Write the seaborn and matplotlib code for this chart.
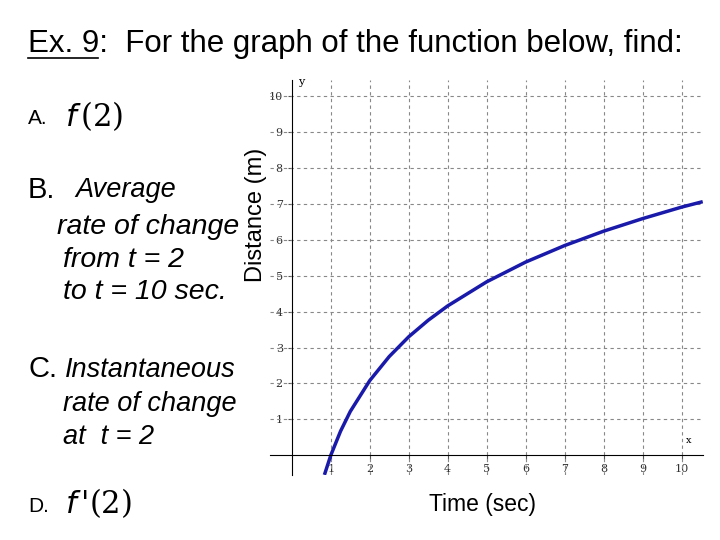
import matplotlib
matplotlib.use("Agg")
import matplotlib.pyplot as plt
import seaborn as sns
import pandas as pd

t = [0.85, 1.0, 1.25, 1.5, 2.0, 2.5, 3.0, 3.5, 4.0, 5.0, 6.0, 7.0, 8.0, 9.0, 10.0, 10.5]
d = [-0.5, 0.0, 0.67, 1.22, 2.08, 2.75, 3.3, 3.76, 4.16, 4.83, 5.38, 5.84, 6.24, 6.59, 6.91, 7.05]
xticks = [1, 2, 3, 4, 5, 6, 7, 8, 9, 10]
yticks = [1, 2, 3, 4, 5, 6, 7, 8, 9, 10]

df = pd.DataFrame({"t": t, "d": d})
fig = plt.figure(figsize=(7.2, 5.4), dpi=100)
ax = fig.add_axes([270/720, 1-475/540, 433/720, 395/540])
ax.set_xlim(-0.56, 10.55)
ax.set_ylim(-0.55, 10.45)
for v in xticks:
    ax.axvline(v, color="#888888", ls=(0, (3, 3)), lw=0.8)
for v in yticks:
    ax.axhline(v, color="#888888", ls=(0, (3, 3)), lw=0.8)
sns.lineplot(data=df, x="t", y="d", ax=ax, color="#1a1aaa", lw=2.5)
for s in ["top", "right"]:
    ax.spines[s].set_visible(False)
ax.spines["left"].set_position(("data", 0))
ax.spines["bottom"].set_position(("data", 0))
ax.set_xticks(xticks)
ax.set_yticks(yticks)
ax.set_xticklabels([str(v) for v in xticks], fontfamily="DejaVu Serif", fontsize=8, color="#333333")
ax.set_yticklabels([str(v) for v in yticks], fontfamily="DejaVu Serif", fontsize=8, color="#333333")
ax.tick_params(length=3, color="#555555")
ax.set_xlabel(""); ax.set_ylabel("")
ax.text(0.15, 10.3, "y", fontfamily="DejaVu Serif", fontsize=8)
ax.text(10.1, 0.35, "x", fontfamily="DejaVu Serif", fontsize=7)

F = "Liberation Sans"
fig.text(28/720, 1-44/540, "Ex. 9:  For the graph of the function below, find:", fontsize=22.5, fontfamily=F, va="center")
fig.add_artist(plt.Line2D([28/720, 98/720], [1-58/540, 1-58/540], color="black", lw=1.2))
fig.text(28/720, 1-118/540, "A.", fontsize=15, fontfamily=F, va="center")
fig.text(65/720, 1-116/540, r"$f\,$(2)", fontsize=22, fontfamily="DejaVu Serif", va="center")
fig.text(28/720, 1-190/540, "B.", fontsize=21, fontfamily=F, va="center")
fig.text(75/720, 1-190/540, "Average", fontsize=19.5, fontfamily=F, style="italic", va="center")
fig.text(57/720, 1-227/540, "rate of change", fontsize=20.5, fontfamily=F, style="italic", va="center")
fig.text(63/720, 1-260/540, "from t = 2", fontsize=20.5, fontfamily=F, style="italic", va="center")
fig.text(63/720, 1-292/540, "to t = 10 sec.", fontsize=20.5, fontfamily=F, style="italic", va="center")
fig.text(28/720, 1-369/540, "C.", fontsize=21, fontfamily=F, va="center")
fig.text(65/720, 1-370/540, "Instantaneous", fontsize=19.5, fontfamily=F, style="italic", va="center")
fig.text(63/720, 1-404/540, "rate of change", fontsize=19.5, fontfamily=F, style="italic", va="center")
fig.text(63/720, 1-437/540, "at  t = 2", fontsize=19.5, fontfamily=F, style="italic", va="center")
fig.text(28/720, 1-507/540, "D.", fontsize=15, fontfamily=F, va="center")
fig.text(65/720, 1-503/540, r"$f\,$'(2)", fontsize=22, fontfamily="DejaVu Serif", va="center")
fig.text(256/720, 1-215/540, "Distance (m)", fontsize=17, fontfamily=F, rotation=90, ha="center", va="center")
fig.text(483/720, 1-505/540, "Time (sec)", fontsize=16.5, fontfamily=F, ha="center", va="center")
fig.savefig("out.png", dpi=100)
